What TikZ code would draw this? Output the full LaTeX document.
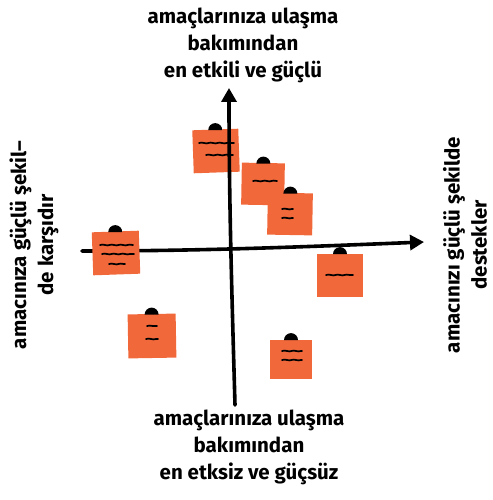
\documentclass[tikz,border=0pt]{standalone}
\usepackage{fontspec}
\setmainfont{Fira Sans}
\usetikzlibrary{arrows.meta,shapes.geometric,calc,decorations.pathmorphing}
\definecolor{postit}{RGB}{241,104,58}

\tikzset{
  axis/.style={line width=3.6pt, line cap=round, -{Triangle[length=14pt,width=15pt]}},
  note/.style={fill=postit, inner sep=0pt},
  pinhead/.style={semicircle, fill=black, inner sep=0pt, minimum size=7pt, anchor=south},
  scribble/.style={line width=1.7pt, line cap=round, decorate,
    decoration={snake, amplitude=0.4pt, segment length=9pt}},
  caption/.style={align=center, font=\fontsize{20.5}{27}\selectfont\bfseries}
}

\begin{document}
\begin{tikzpicture}[x=1pt,y=-1pt]
    \useasboundingbox (0,0) rectangle (492,500);
    % note under the vertical axis
    \node [note, minimum width=46pt, minimum height=43pt, rotate=2] (n1) at (216,151) {};
    % axes
    \coordinate (bot) at (235,405);
    \coordinate (top) at (229,88);
    \coordinate (lft) at (82,251);
    \coordinate (rgt) at (424,242);
    \draw [axis] (bot) .. controls (232,300) and (229,200) .. (top);
    \draw [axis] (lft) .. controls (200,251) and (300,247) .. (rgt);
    % the other notes
    \node [note, minimum width=43pt, minimum height=42pt, rotate=-1] (n2) at (263,184) {};
    \node [note, minimum width=45pt, minimum height=42pt, rotate=-1] (n3) at (290,214) {};
    \node [note, minimum width=47pt, minimum height=43pt, rotate=2] (n4) at (116,253) {};
    \node [note, minimum width=46pt, minimum height=43pt] (n5) at (340,275) {};
    \node [note, minimum width=48pt, minimum height=44pt, rotate=1] (n6) at (152,336) {};
    \node [note, minimum width=42pt, minimum height=39pt] (n7) at (291,359) {};
    % pins
    \foreach \n in {n1,n2,n3,n4,n5,n6,n7}
      \node [pinhead] (pin-\n) at ([yshift=-1pt]\n.north) {};
    % scribbles on the notes
    \draw [scribble] ($(n1)+(-17,-8)$) -- ($(n1)+(18,-8)$);
    \draw [scribble] ($(n1)+(-10,4)$) -- ($(n1)+(17,4)$);
    \draw [scribble] ($(n2)+(-10,-3)$) -- ($(n2)+(14,-3)$);
    \draw [scribble] ($(n3)+(-8,-5)$) -- ($(n3)+(3,-5)$);
    \draw [scribble] ($(n3)+(-8,4)$) -- ($(n3)+(3,4)$);
    \draw [scribble] ($(n4)+(-16,-8)$) -- ($(n4)+(17,-8)$);
    \draw [scribble] ($(n4)+(-14,1)$) -- ($(n4)+(18,1)$);
    \draw [scribble] ($(n4)+(-7,11)$) -- ($(n4)+(9,11)$);
    \draw [scribble] ($(n5)+(-14,0)$) -- ($(n5)+(13,0)$);
    \draw [scribble] ($(n6)+(-5,-10)$) -- ($(n6)+(5,-10)$);
    \draw [scribble] ($(n6)+(-6,3)$) -- ($(n6)+(6,3)$);
    \draw [scribble] ($(n7)+(-9,-8)$) -- ($(n7)+(11,-8)$);
    \draw [scribble] ($(n7)+(-9,1)$) -- ($(n7)+(11,1)$);
    % captions
    \node [caption] (uplabel) at (243,45) {amaçlarınıza ulaşma\\bakımından\\en etkili ve güçlü};
    \node [caption] (downlabel) at (249,447) {amaçlarınıza ulaşma\\bakımından\\en etksiz ve güçsüz};
    \node [caption, rotate=90] (leftlabel) at (34,245) {amacınıza güçlü şekil–\\de karşıdır};
    \node [caption, rotate=90] (rightlabel) at (465,245) {amacınızı güçlü şekilde\\destekler};
\end{tikzpicture}
\end{document}
